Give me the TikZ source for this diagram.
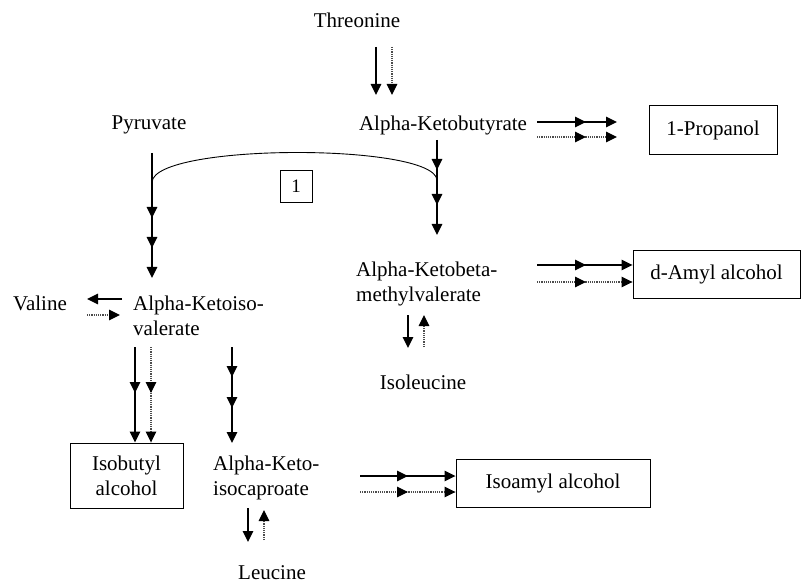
\documentclass[tikz,border=0pt]{standalone}
\usepackage{fontspec}
\setmainfont{Liberation Serif}
\usetikzlibrary{arrows.meta,decorations.markings}
\begin{document}
\begin{tikzpicture}[x=1pt,y=-1pt,
  font=\fontsize{21}{25}\selectfont,
  tip/.tip={Triangle[length=11pt,width=10.5pt,color=black]},
  lbl/.style={inner sep=0pt},
  two/.style={inner sep=0pt,align=left,anchor=west},
  prod/.style={draw,line width=0.9pt,inner sep=0pt,align=center},
  flow/.style={line width=1.4pt,-tip},
  alt/.style={line width=1.2pt,densely dotted,black!70,-tip},
  midtip/.style={postaction={decorate,decoration={markings,
      mark=at position #1 with {\arrow{tip}}}}},
]
\useasboundingbox (0,0) rectangle (803,585);

% metabolites
\node[lbl] (thr) at (357,20) {Threonine};
\node[lbl] (pyr) at (149,125) {Pyruvate};
\node[lbl] (akb) at (443,125) {Alpha-Ketobutyrate};
\node[two] (akmv) at (356,284) {Alpha-Ketobeta-\\methylvalerate};
\node[lbl] (val) at (40,303) {Valine};
\node[two] (akiv) at (133,316) {Alpha-Ketoiso-\\valerate};
\node[lbl] (ile) at (423,382) {Isoleucine};
\node[two] (akic) at (213,478) {Alpha-Keto-\\isocaproate};
\node[lbl] (leu) at (272,573) {Leucine};

% alcohols
\node[prod,minimum width=128pt,minimum height=49pt] (prop) at (713,130) {1-Propanol};
\node[prod,minimum width=167pt,minimum height=48pt] (damyl) at (716.5,274) {d-Amyl alcohol};
\node[prod,minimum width=113pt,minimum height=65pt] (isob) at (126.5,475.5) {Isobutyl\\alcohol};
\node[prod,minimum width=194pt,minimum height=48pt] (isoa) at (553,483) {Isoamyl alcohol};
\node[prod,minimum width=32pt,minimum height=32pt,font=\fontsize{19}{23}\selectfont] (one) at (296,186) {1};

% arrow end points
\coordinate (t1a) at (376,47);  \coordinate (t1b) at (376,95);
\coordinate (t2a) at (392,47);  \coordinate (t2b) at (392,95);
\coordinate (p1a) at (537,122); \coordinate (p1b) at (617,122);
\coordinate (p2a) at (537,137); \coordinate (p2b) at (617,137);
\coordinate (pya) at (152,153); \coordinate (pyb) at (152,278);
\coordinate (arcL) at (152,182); \coordinate (arcR) at (437,180);
\coordinate (kba) at (437,140); \coordinate (kbb) at (437,235);
\coordinate (d1a) at (537,265); \coordinate (d1b) at (damyl.west |- d1a);
\coordinate (d2a) at (537,282); \coordinate (d2b) at (damyl.west |- d2a);
\coordinate (i1a) at (408,315); \coordinate (i1b) at (408,348);
\coordinate (i2a) at (424,347); \coordinate (i2b) at (424,315);
\coordinate (v1a) at (122,299); \coordinate (v1b) at (87,299);
\coordinate (v2a) at (87,315);  \coordinate (v2b) at (120,315);
\coordinate (b1a) at (135,347); \coordinate (b1b) at (b1a |- isob.north);
\coordinate (b2a) at (151,347); \coordinate (b2b) at (b2a |- isob.north);
\coordinate (c1a) at (232,347); \coordinate (c1b) at (232,443);
\coordinate (a1a) at (360,476); \coordinate (a1b) at (isoa.west |- a1a);
\coordinate (a2a) at (360,492); \coordinate (a2b) at (isoa.west |- a2a);
\coordinate (l1a) at (248,508); \coordinate (l1b) at (248,542);
\coordinate (l2a) at (264,540); \coordinate (l2b) at (264,510);

% threonine -> alpha-ketobutyrate
\draw[flow] (t1a) -- (t1b);
\draw[alt]  (t2a) -- (t2b);
% alpha-ketobutyrate -> 1-propanol
\draw[flow,midtip=49pt] (p1a) -- (p1b);
\draw[alt,midtip=49pt]  (p2a) -- (p2b);
% pyruvate branch and the joining arc
\draw[flow,midtip=65pt,midtip=95pt] (pya) -- (pyb);
\draw[line width=0.9pt] (arcL) .. controls (155,143) and (434,143) .. (arcR);
\draw[flow,midtip=30pt,midtip=65pt] (kba) -- (kbb);
% alpha-ketobeta-methylvalerate
\draw[flow,midtip=49pt] (d1a) -- (d1b);
\draw[alt,midtip=49pt]  (d2a) -- (d2b);
\draw[flow] (i1a) -- (i1b);
\draw[alt]  (i2a) -- (i2b);
% alpha-ketoisovalerate
\draw[flow] (v1a) -- (v1b);
\draw[alt]  (v2a) -- (v2b);
\draw[flow,midtip=46pt] (b1a) -- (b1b);
\draw[alt,midtip=46pt]  (b2a) -- (b2b);
\draw[flow,midtip=30pt,midtip=61pt] (c1a) -- (c1b);
% alpha-ketoisocaproate
\draw[flow,midtip=48pt] (a1a) -- (a1b);
\draw[alt,midtip=48pt]  (a2a) -- (a2b);
\draw[flow] (l1a) -- (l1b);
\draw[alt]  (l2a) -- (l2b);
\end{tikzpicture}
\end{document}
